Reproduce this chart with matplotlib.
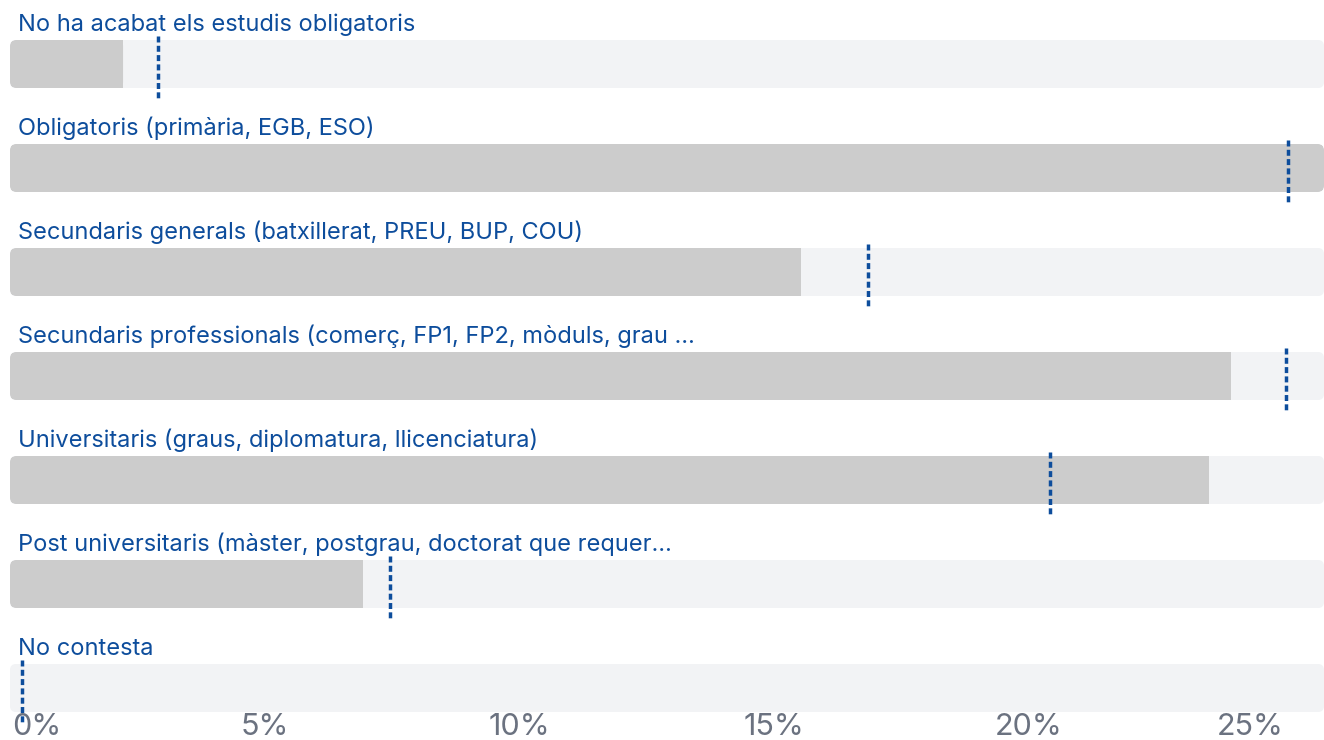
import matplotlib
matplotlib.use("Agg")
import matplotlib.pyplot as plt
from matplotlib.patches import FancyBboxPatch

# --- data -------------------------------------------------------------
categories = [
    "No ha acabat els estudis obligatoris",
    "Obligatoris (primària, EGB, ESO)",
    "Secundaris generals (batxillerat, PREU, BUP, COU)",
    "Secundaris professionals (comerç, FP1, FP2, mòduls, grau …",
    "Universitaris (graus, diplomatura, llicenciatura)",
    "Post universitaris (màster, postgrau, doctorat que requer…",
    "No contesta",
]
values = [2.22, 25.8, 15.53, 23.97, 23.54, 6.93, 0.0]        # grey bars (%)
reference = [2.9, 25.09, 16.84, 25.05, 20.42, 7.46, 0.24]    # dashed markers (%)
tick_values = [0, 5, 10, 15, 20, 25]
tick_labels = ["0%", "5%", "10%", "15%", "20%", "25%"]

# --- styling ----------------------------------------------------------
W, H, DPI = 1324, 740, 100
TRACK = "#f2f3f5"
BAR = "#cccccc"
BLUE = "#0d4d9c"
TICK = "#6b7280"
FONT = ["Inter", "DejaVu Sans"]

X_MAX = max(values)
ROW_TOP = 40       # px, top of first track
ROW_STEP = 104     # px between rows
ROW_H = 48         # px track height
RADIUS_PX = 6

plt.rcParams["font.family"] = FONT
plt.rcParams["lines.scale_dashes"] = False

fig = plt.figure(figsize=(W / DPI, H / DPI), dpi=DPI)
ax = fig.add_axes([10 / W, 0, (W - 10) / W, 1])
ax.set_xlim(0, X_MAX)
ax.set_ylim(H, 0)
ax.axis("off")

px_per_unit = (W - 10) / X_MAX
rx = RADIUS_PX / px_per_unit
aspect = px_per_unit  # y units (px) per x unit

for i, (cat, val, ref) in enumerate(zip(categories, values, reference)):
    top = ROW_TOP + i * ROW_STEP
    track = FancyBboxPatch((0, top), X_MAX, ROW_H,
                           boxstyle=f"round,pad=0,rounding_size={rx}",
                           mutation_aspect=aspect, fc=TRACK, ec="none", zorder=1)
    ax.add_patch(track)
    if val > 0:
        bar = FancyBboxPatch((0, top), val, ROW_H,
                             boxstyle=f"round,pad=0,rounding_size={rx}",
                             mutation_aspect=aspect, fc=BAR, ec="none", zorder=2)
        ax.add_patch(bar)
        if val < X_MAX:
            # square right edge: fill the right rounded corner area
            ax.add_patch(plt.Rectangle((max(val - 2 * rx, 0), top), min(2 * rx, val), ROW_H,
                                       fc=BAR, ec="none", zorder=2))
        for p in ax.patches[-2:]:
            p.set_clip_path(track)
    ax.plot([ref, ref], [top - 4, top + ROW_H + 12], color=BLUE, lw=2.5,
            linestyle=(0, (4.3, 2.4)), solid_capstyle="butt", dash_capstyle="butt",
            zorder=3)
    ax.text(8 / px_per_unit, top - 9, cat, color=BLUE, fontsize=17,
            ha="left", va="baseline", zorder=4)

# x axis labels along the bottom edge
for k, (tv, tl) in enumerate(zip(tick_values, tick_labels)):
    ha = "left" if k == 0 else ("right" if k == len(tick_values) - 1 else "center")
    x = tv + (2 / px_per_unit if k == 0 else 0)
    ax.text(x, 735, tl, color=TICK, fontsize=22, ha=ha, va="baseline", zorder=0)

fig.savefig("out.png", dpi=DPI)
